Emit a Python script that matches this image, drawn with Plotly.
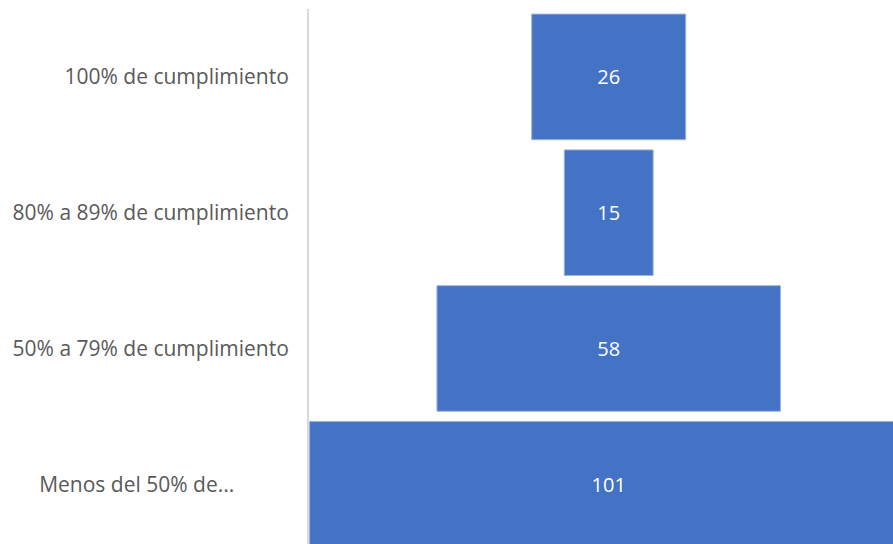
import plotly.graph_objects as go

# Compliance bands (top to bottom) and number of cases in each
categories = [
    "100% de cumplimiento",
    "80% a 89% de cumplimiento",
    "50% a 79% de cumplimiento",
    "Menos del 50% de cumplimiento",
]
tick_labels = [
    "100% de cumplimiento",
    "80% a 89% de cumplimiento",
    "50% a 79% de cumplimiento",
    "Menos del 50% de..." + "\u00a0" * 10,
]
values = [26, 15, 58, 101]

fig = go.Figure(
    go.Funnel(
        y=categories,
        x=values,
        text=[str(v) for v in values],
        textinfo="text",
        textposition="inside",
        insidetextanchor="middle",
        textfont=dict(color="white", size=20, family="Open Sans"),
        marker=dict(color="#4472C4", line=dict(color="#9db3e0", width=1)),
        connector=dict(visible=False),
        cliponaxis=True,
    )
)

fig.update_layout(
    width=893,
    height=544,
    margin=dict(l=309, r=0, t=9, b=0),
    paper_bgcolor="white",
    plot_bgcolor="white",
    showlegend=False,
    funnelgap=0.075,
    font=dict(family="Open Sans", color="#595959", size=21),
    xaxis=dict(
        range=[-50.6, 48.0],
        visible=False,
        showgrid=False,
        zeroline=False,
    ),
    yaxis=dict(
        type="category",
        categoryorder="array",
        categoryarray=categories,
        range=[3.44, -0.5],
        tickvals=categories,
        ticktext=tick_labels,
        showline=True,
        linecolor="#d9d9d9",
        linewidth=2,
        ticks="outside",
        ticklen=14,
        tickcolor="rgba(0,0,0,0)",
        showgrid=False,
        zeroline=False,
        tickfont=dict(size=21, color="#595959", family="Open Sans"),
    ),
)

fig.write_html("out.html")
